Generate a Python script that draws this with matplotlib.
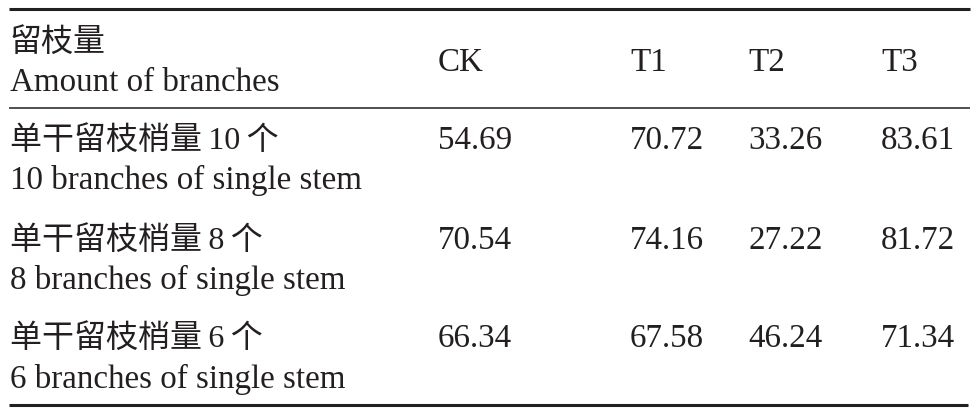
import matplotlib
matplotlib.use('Agg')
import matplotlib.pyplot as plt

# table contents
columns = ['CK', 'T1', 'T2', 'T3']
header_cn = '留枝量'
header_en = 'Amount of branches'
row_cn = ['单干留枝梢量\u200910\u2009个', '单干留枝梢量\u20098\u2009个',
          '单干留枝梢量\u20096\u2009个']
row_en = ['10 branches of single stem', '8 branches of single stem',
          '6 branches of single stem']
ck = [54.69, 70.54, 66.34]
t1 = [70.72, 74.16, 67.58]
t2 = [33.26, 27.22, 46.24]
t3 = [83.61, 81.72, 71.34]

W, H = 976, 415
ink = '#231f20'
fam = ['Liberation Serif', 'Noto Sans CJK SC']
fs = 23.8

fig = plt.figure(figsize=(W / 100, H / 100), dpi=100)
ax = fig.add_axes([0, 0, 1, 1])
ax.set_xlim(0, W)
ax.set_ylim(H, 0)
ax.axis('off')

# rules
ax.hlines(9.5, 9, 970, color=ink, lw=2.2)
ax.hlines(108.5, 9, 970, color=ink, lw=1.1)
ax.hlines(405, 9, 968, color=ink, lw=2.2)

label_x = 10
col_x = [438, 630, 748, 881]

def put(x, y, s, size=fs):
    ax.text(x, y, s, fontsize=size, family=fam, color=ink, va='baseline', ha='left')

# header
put(label_x, 51, header_cn, 23)
put(label_x, 91, header_en)
for x, c in zip(col_x, columns):
    put(x, 71, c)

# body
base_cn = [149, 249, 347]
base_en = [189, 289, 388]
values = [ck, t1, t2, t3]
for i in range(len(row_cn)):
    put(label_x, base_cn[i], row_cn[i], 23)
    put(label_x, base_en[i], row_en[i])
    for x, col in zip(col_x, values):
        put(x, base_cn[i], f'{col[i]:.2f}')

fig.savefig('out.png', dpi=100, facecolor='white')
